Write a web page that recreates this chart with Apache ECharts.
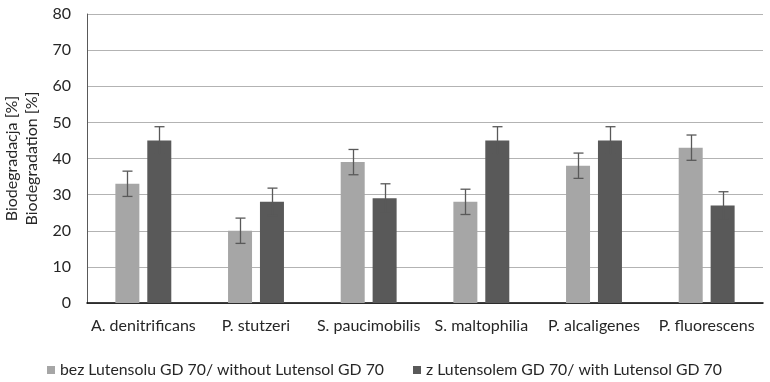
<!DOCTYPE html>
<html><head><meta charset="utf-8">
<script src="https://cdn.jsdelivr.net/npm/echarts@6/dist/echarts.min.js"></script>
<style>html,body{margin:0;padding:0;background:#fff}#c{width:770px;height:382px}</style>
</head><body><div id="c"></div>
<script>
var categories = ['A. denitrificans','P. stutzeri','S. paucimobilis','S. maltophilia','P. alcaligenes','P. fluorescens'];
var seriesNames = ['bez Lutensolu GD 70/ without Lutensol GD 70','z Lutensolem GD 70/ with Lutensol GD 70'];
var withoutVals = [33, 20, 39, 28, 38, 43];
var withoutErr  = [3.5, 3.5, 3.5, 3.5, 3.5, 3.5];
var withVals    = [45, 28, 29, 45, 45, 27];
var withErr     = [3.8, 3.8, 4, 3.8, 3.8, 3.8];
var yTicks = [0,10,20,30,40,50,60,70,80];

var FONT = 'Lato';
var TXT = '#262626';
var chart = echarts.init(document.getElementById('c'));
function errSeries(vals, errs, offset){
  return {
    type:'custom', silent:true, z:5,
    data: vals.map(function(v,i){return [i, v-errs[i], v+errs[i]];}),
    renderItem: function(params, api){
      var lo = api.coord([api.value(0), api.value(1)]);
      var hi = api.coord([api.value(0), api.value(2)]);
      var x = Math.round(lo[0] + offset) + 0.5;
      var hw = 5;
      var st = {stroke:'#595959', lineWidth:1.3};
      return {type:'group', children:[
        {type:'line', shape:{x1:x,y1:lo[1],x2:x,y2:hi[1]}, style:st},
        {type:'line', shape:{x1:x-hw,y1:lo[1],x2:x+hw,y2:lo[1]}, style:st},
        {type:'line', shape:{x1:x-hw,y1:hi[1],x2:x+hw,y2:hi[1]}, style:st}
      ]};
    }
  };
}
chart.setOption({
  animation:false,
  textStyle:{fontFamily:FONT},
  grid:{left:87, right:7, top:14, bottom:79, containLabel:false, outerBoundsMode:'none'},
  legend:{
    left:42, top:357, itemWidth:8, itemHeight:8, itemGap:29,
    icon:'rect',
    textStyle:{fontFamily:FONT, fontSize:15.8, color:TXT},
    data: seriesNames
  },
  xAxis:{
    type:'category', data:categories,
    axisLine:{lineStyle:{color:'#000', width:1.5}},
    axisTick:{show:false},
    axisLabel:{fontFamily:FONT, fontSize:16, color:TXT, margin:15, interval:0}
  },
  yAxis:{
    type:'value', min:0, max:80, interval:10,
    name:'Biodegradacja [%]\nBiodegradation [%]',
    nameLocation:'middle', nameGap:38, nameRotate:90,
    nameTextStyle:{fontFamily:FONT, fontSize:16, color:TXT, lineHeight:20},
    axisLine:{show:true, lineStyle:{color:'#595959', width:1}},
    axisTick:{show:false},
    axisLabel:{fontFamily:FONT, fontSize:16, color:TXT, margin:16,
      formatter:function(v){return yTicks.indexOf(v)>=0 ? String(v) : '';}},
    splitLine:{lineStyle:{color:'#b3b3b3', width:1}}
  },
  series:[
    {name:seriesNames[0], type:'bar', data:withoutVals, barWidth:24, barGap:'33%', itemStyle:{color:'#a6a6a6'}},
    {name:seriesNames[1], type:'bar', data:withVals, barWidth:24, itemStyle:{color:'#595959'}},
    errSeries(withoutVals, withoutErr, -16),
    errSeries(withVals, withErr, 16)
  ]
});
</script></body></html>
